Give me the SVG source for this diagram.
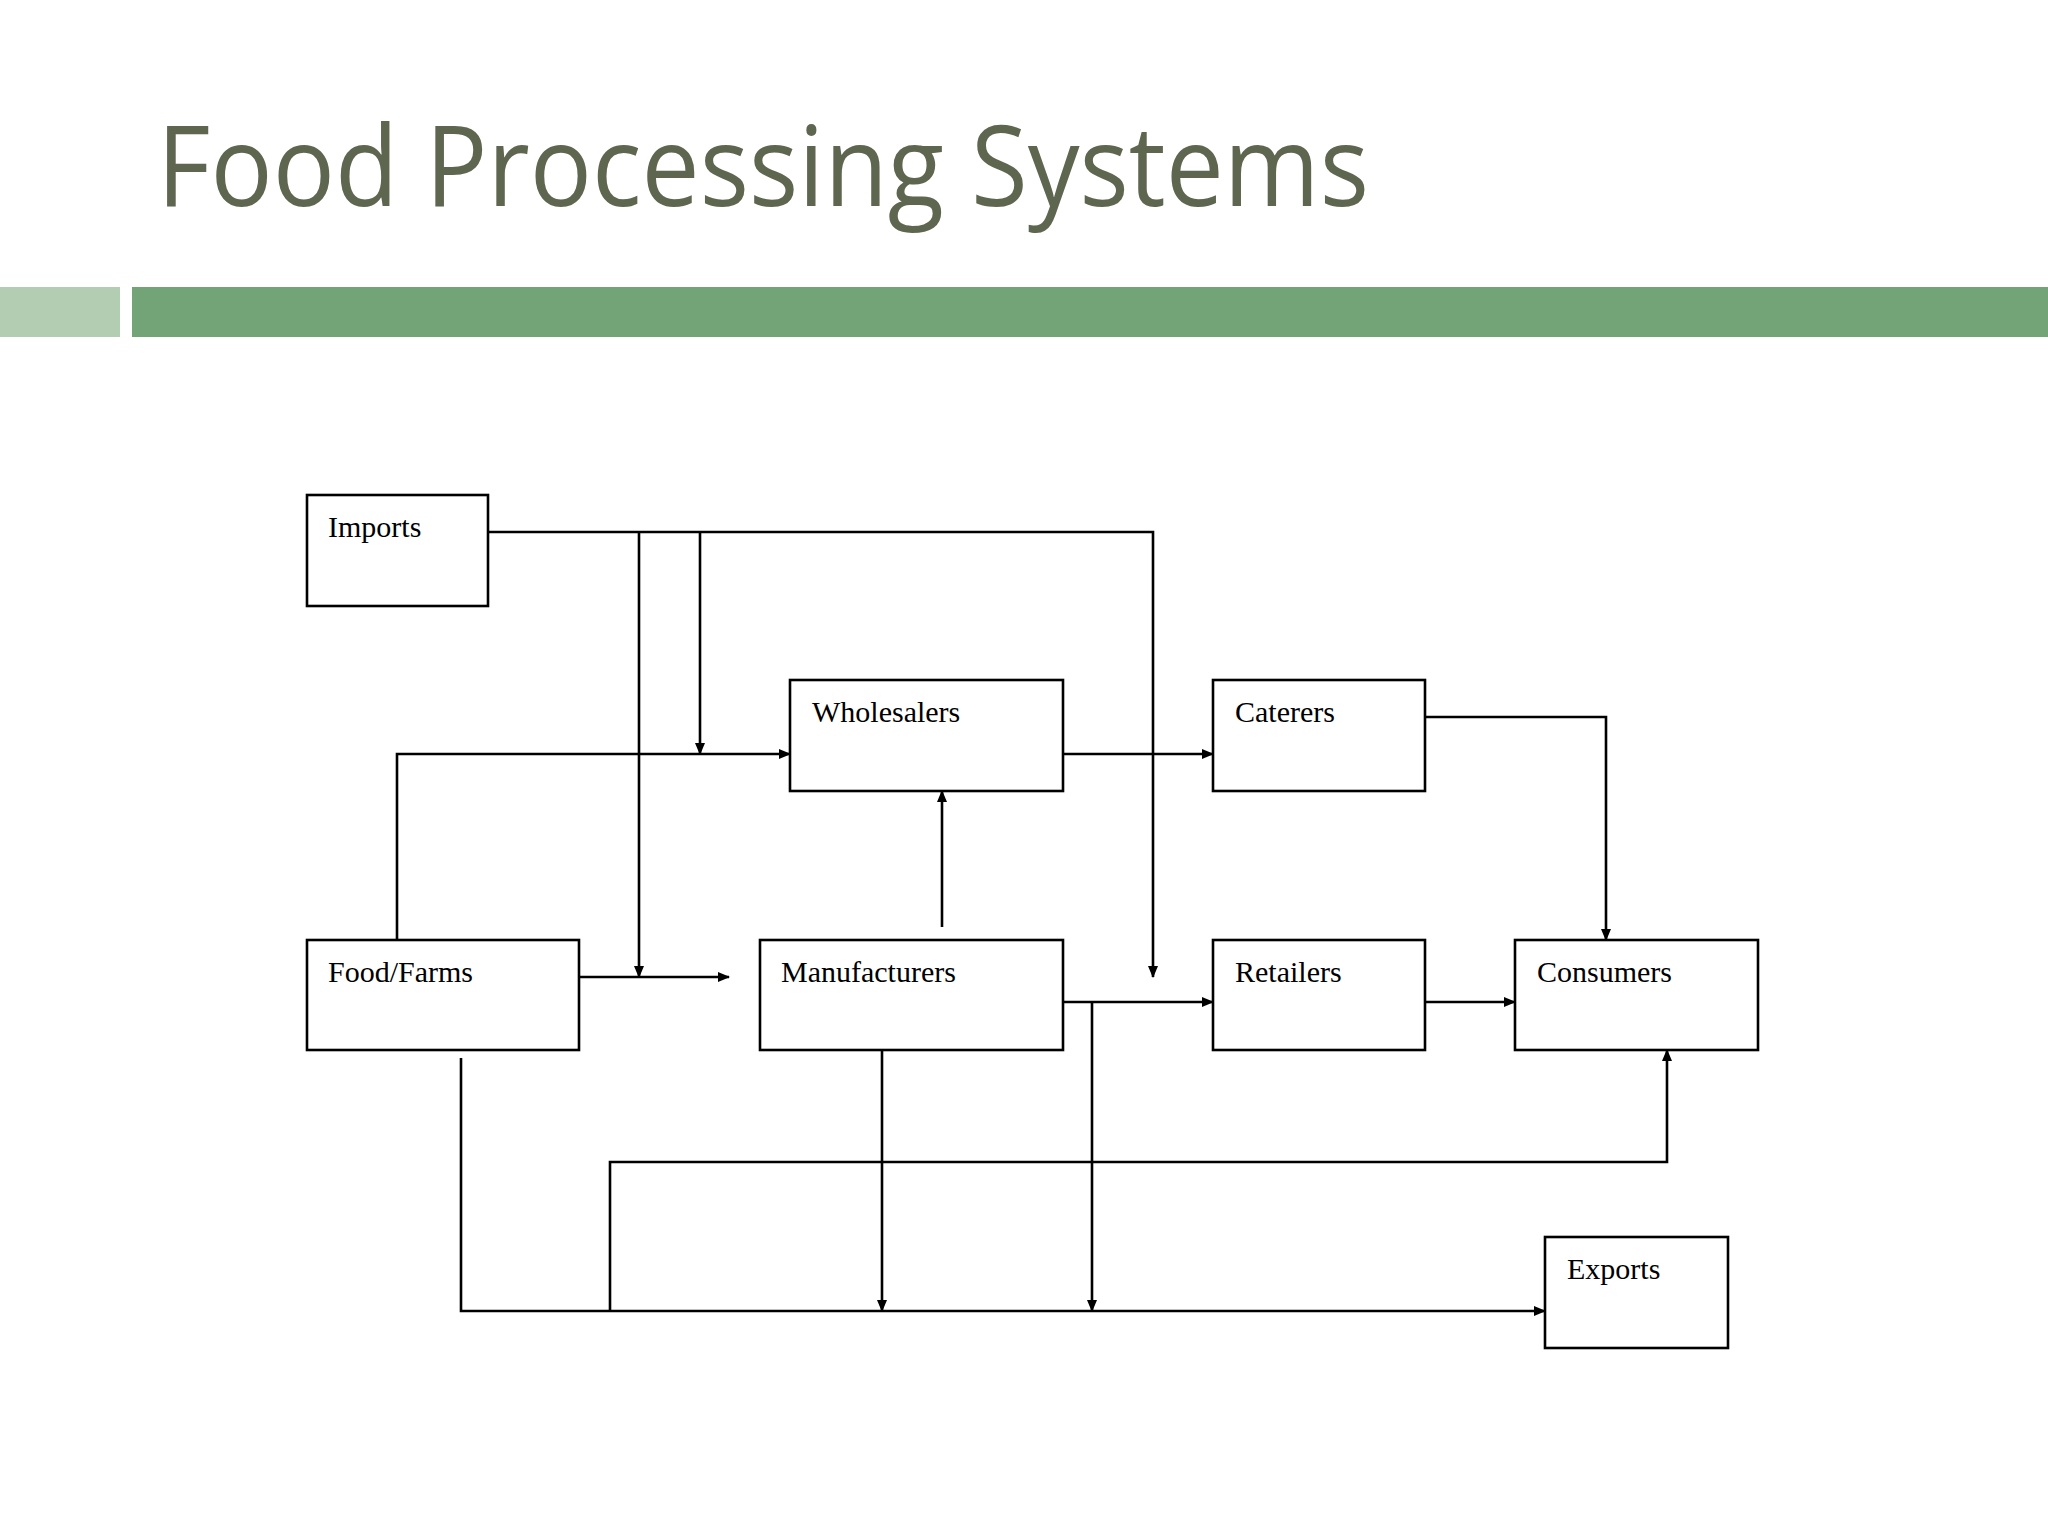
<svg xmlns="http://www.w3.org/2000/svg" width="2048" height="1536" viewBox="0 0 2048 1536">
<style>
.box{fill:#fff;stroke:#000;stroke-width:2.6}
.lbl{font-family:"Liberation Serif",serif;font-size:30px;fill:#000}
.c{fill:none;stroke:#000;stroke-width:2.6}
</style>
<defs>
<marker id="a" markerWidth="12" markerHeight="10" refX="11" refY="5" orient="auto" markerUnits="userSpaceOnUse">
<path d="M0,0 L12,5 L0,10 Z" fill="#000"/>
</marker>
</defs>
<rect width="2048" height="1536" fill="#fff"/>
<text x="157" y="206" font-family="'Open Sans',Lato,sans-serif" font-size="112" fill="#5f6650" textLength="1212" lengthAdjust="spacingAndGlyphs">Food Processing Systems</text>
<rect x="0" y="287" width="120" height="50" fill="#b3cdb3"/>
<rect x="132" y="287" width="1916" height="50" fill="#73a478"/>
<g id="connectors">
<path class="c" d="M488,532 H1153 V977" marker-end="url(#a)"/>
<path class="c" d="M639,532 V977" marker-end="url(#a)"/>
<path class="c" d="M700,532 V754" marker-end="url(#a)"/>
<path class="c" d="M397,940 V754 H790" marker-end="url(#a)"/>
<path class="c" d="M579,977 H729" marker-end="url(#a)"/>
<path class="c" d="M942,927 V791" marker-end="url(#a)"/>
<path class="c" d="M1063,754 H1213" marker-end="url(#a)"/>
<path class="c" d="M1425,717 H1606 V940" marker-end="url(#a)"/>
<path class="c" d="M1063,1002 H1213" marker-end="url(#a)"/>
<path class="c" d="M1425,1002 H1515" marker-end="url(#a)"/>
<path class="c" d="M882,1050 V1311" marker-end="url(#a)"/>
<path class="c" d="M1092,1002 V1311" marker-end="url(#a)"/>
<path class="c" d="M461,1058 V1311 H1545" marker-end="url(#a)"/>
<path class="c" d="M610,1311 V1162 H1667 V1050" marker-end="url(#a)"/>
</g>
<g id="imports"><rect class="box" x="307" y="495" width="181" height="111"/><text class="lbl" x="328" y="537">Imports</text></g>
<g id="wholesalers"><rect class="box" x="790" y="680" width="273" height="111"/><text class="lbl" x="812" y="722">Wholesalers</text></g>
<g id="caterers"><rect class="box" x="1213" y="680" width="212" height="111"/><text class="lbl" x="1235" y="722">Caterers</text></g>
<g id="foodfarms"><rect class="box" x="307" y="940" width="272" height="110"/><text class="lbl" x="328" y="982">Food/Farms</text></g>
<g id="manufacturers"><rect class="box" x="760" y="940" width="303" height="110"/><text class="lbl" x="781" y="982">Manufacturers</text></g>
<g id="retailers"><rect class="box" x="1213" y="940" width="212" height="110"/><text class="lbl" x="1235" y="982">Retailers</text></g>
<g id="consumers"><rect class="box" x="1515" y="940" width="243" height="110"/><text class="lbl" x="1537" y="982">Consumers</text></g>
<g id="exports"><rect class="box" x="1545" y="1237" width="183" height="111"/><text class="lbl" x="1567" y="1279">Exports</text></g>
</svg>
